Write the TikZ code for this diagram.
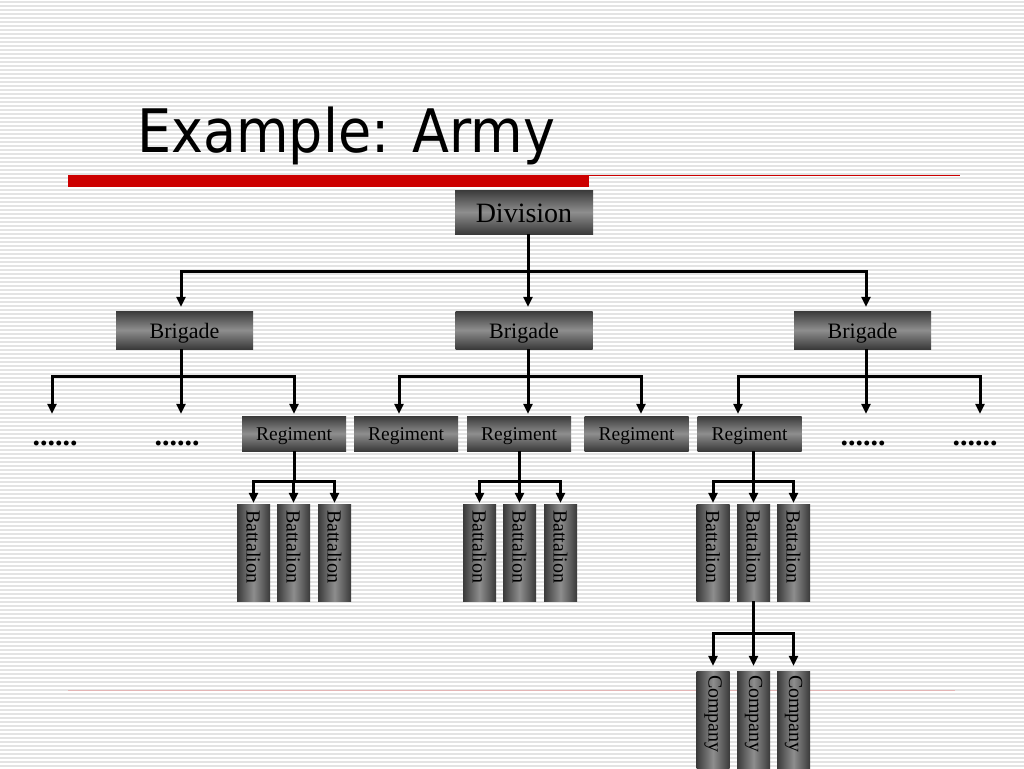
\documentclass[tikz,border=0pt]{standalone}
\usepackage{fontspec}
\setmainfont{Liberation Serif}
\newfontfamily\titlefont{DejaVu Sans Condensed}
\usetikzlibrary{arrows.meta,calc}
\definecolor{boxdark}{HTML}{3A3A3A}
\definecolor{boxlight}{HTML}{8E8E8E}
\definecolor{stripe}{HTML}{E3E3E3}
\definecolor{redbar}{HTML}{CC0000}
\definecolor{footline}{HTML}{E3B5B5}
\begin{document}
\begin{tikzpicture}[x=1pt,y=1pt,
  hbox/.style={inner sep=0pt, text depth=0pt, top color=boxdark, bottom color=boxdark, middle color=boxlight, text=black},
  divbox/.style={hbox, text height=21.5pt, minimum width=138pt, minimum height=44pt, font=\fontsize{28}{30}\selectfont},
  brigbox/.style={hbox, text height=16.5pt, minimum width=137pt, minimum height=38pt, font=\fontsize{22}{24}\selectfont},
  regbox/.style={hbox, text height=14pt, minimum width=104pt, minimum height=35pt, font=\fontsize{19.5}{21}\selectfont},
  vbox/.style={inner sep=0pt, minimum width=33pt, minimum height=97pt, left color=boxdark, right color=boxdark, middle color=boxlight},
  vtext/.style={inner sep=0pt, rotate=-90, anchor=west, font=\fontsize{20}{22}\selectfont},
  dots/.style={inner sep=0pt, anchor=base, font=\bfseries\fontsize{30}{32}\selectfont},
  arr/.style={line width=3pt, -{Triangle[length=10pt,width=9pt]}},
]
\useasboundingbox (0,0) rectangle (1024,-768);
\fill[white] (0,0) rectangle (1024,-768);
\foreach \i in {0,...,191} \fill[stripe] (0,{-\i*4-1}) rectangle (1024,{-\i*4-2.6});

% title and rules
\node[anchor=base west, inner sep=0pt, font=\titlefont\fontsize{60}{66}\selectfont] (title) at (137,-152) {Example: Army};
\fill[redbar] (68,-175) rectangle (589,-187);
\draw[redbar, line width=1pt] (589,-175.5) -- (960,-175.5);
\draw[footline, line width=1pt] (68,-690) -- (955,-690);

% nodes
\node[divbox] (div) at (524,-212) {Division};
\node[brigbox] (br1) at (184.5,-330) {Brigade};
\node[brigbox] (br2) at (524,-330) {Brigade};
\node[brigbox] (br3) at (862.5,-330) {Brigade};

\node[regbox] (r1) at (294,-433.5) {Regiment};
\node[regbox] (r2) at (406,-433.5) {Regiment};
\node[regbox] (r3) at (519,-433.5) {Regiment};
\node[regbox] (r4) at (636.5,-433.5) {Regiment};
\node[regbox] (r5) at (749.5,-433.5) {Regiment};

\node[dots] (d1) at (55,-445) {......};
\node[dots] (d2) at (177,-445) {......};
\node[dots] (d3) at (863,-445) {......};
\node[dots] (d4) at (975,-445) {......};

\foreach \n/\x in {1/253.5,2/293.5,3/334.5,4/479.5,5/519.5,6/560.5,7/713,8/753.5,9/793.5}{
  \node[vbox] (bt\n) at (\x,-552.5) {};
  \node[vtext] (btt\n) at ([yshift=-6pt]bt\n.north) {Battalion};
}
\foreach \n/\x in {1/713,2/753.5,3/793.5}{
  \node[vbox] (co\n) at (\x,-719.5) {};
  \node[vtext] (cot\n) at ([yshift=-4pt]co\n.north) {Company};
}

% connectors
\draw[arr, shorten >=4pt] ([xshift=4pt]div.south) -- ++(0,-37) -| ([xshift=-3.5pt]br1.north);
\draw[arr, shorten >=4pt] ([xshift=4pt]div.south) -- ++(0,-37) -| ([xshift=4pt]br2.north);
\draw[arr, shorten >=4pt] ([xshift=4pt]div.south) -- ++(0,-37) -| ([xshift=3.5pt]br3.north);

\draw[arr, shorten >=2pt] ([xshift=-3.5pt]br1.south) -- ++(0,-27) -| ([xshift=-3pt]d1.center |- r1.north);
\draw[arr, shorten >=2pt] ([xshift=-3.5pt]br1.south) -- ++(0,-27) -| ([xshift=4pt]d2.center |- r1.north);
\draw[arr, shorten >=2pt] ([xshift=-3.5pt]br1.south) -- ++(0,-27) -| (r1.north);

\draw[arr, shorten >=2pt] ([xshift=4pt]br2.south) -- ++(0,-27) -| ([xshift=-7pt]r2.north);
\draw[arr, shorten >=2pt] ([xshift=4pt]br2.south) -- ++(0,-27) -| ([xshift=9pt]r3.north);
\draw[arr, shorten >=2pt] ([xshift=4pt]br2.south) -- ++(0,-27) -| ([xshift=4.5pt]r4.north);

\draw[arr, shorten >=2pt] ([xshift=3.5pt]br3.south) -- ++(0,-27) -| ([xshift=-11.5pt]r5.north);
\draw[arr, shorten >=2pt] ([xshift=3.5pt]br3.south) -- ++(0,-27) -| ([xshift=3pt]d3.center |- r5.north);
\draw[arr, shorten >=2pt] ([xshift=3.5pt]br3.south) -- ++(0,-27) -| ([xshift=5pt]d4.center |- r5.north);

\foreach \t in {bt1,bt2,bt3}
  \draw[arr, shorten >=1pt] (r1.south) -- ++(0,-30) -| (\t.north);
\foreach \t in {bt4,bt5,bt6}
  \draw[arr, shorten >=1pt] (r3.south) -- ++(0,-30) -| (\t.north);
\foreach \t in {bt7,bt8,bt9}
  \draw[arr, shorten >=1pt] ([xshift=4pt]r5.south) -- ++(0,-30) -| (\t.north);
\foreach \t in {co1,co2,co3}
  \draw[arr, shorten >=5pt] (bt8.south) -- ++(0,-32) -| (\t.north);
\end{tikzpicture}
\end{document}
